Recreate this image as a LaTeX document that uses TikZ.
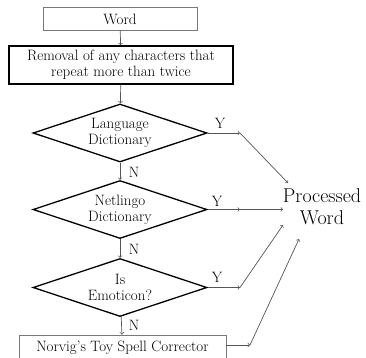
\documentclass[tikz,border=0pt]{standalone}
\usetikzlibrary{shapes.geometric}
\definecolor{arrgray}{RGB}{85,85,85}
\definecolor{boxgray}{RGB}{120,120,120}
\begin{document}
\begin{tikzpicture}[x=1pt,y=-1pt,
  txt/.style={font=\fontsize{15}{16}\selectfont, align=center},
  thinbox/.style={rectangle, draw=boxgray, line width=0.8pt, inner sep=0pt, txt},
  thickbox/.style={rectangle, draw=black, line width=1.5pt, inner sep=0pt, txt},
  dia/.style={diamond, draw=black, line width=1.3pt, aspect=3, inner sep=0pt,
    minimum width=174pt, minimum height=58pt, txt},
  arr/.style={draw=arrgray, line width=0.7pt, ->},
  lbl/.style={font=\fontsize{15}{16}\selectfont, inner sep=0pt},
]
\clip (0,0) rectangle (366,357);
\node[thinbox, minimum width=154pt, minimum height=22.5pt] (word) at (120,19) {Word};
\node[thickbox, minimum width=224pt, minimum height=38pt] (rem) at (121,65)
  {Removal of any characters that\\repeat more than twice};
\node[dia] (d1) at (120,133) {Language\\Dictionary};
\node[dia] (d2) at (120,209.5) {Netlingo\\Dictionary};
\node[dia] (d3) at (120,287.5) {Is\\Emoticon?};
\node[thinbox, minimum width=207pt, minimum height=26pt] (nor) at (122.5,348)
  {Norvig's Toy Spell Corrector};
\node[font=\fontsize{20}{22}\selectfont, align=center, inner sep=0pt] (pw) at (322,207)
  {Processed\\Word};

\coordinate (y1) at (240,133);
\coordinate (y2) at (240,209.5);
\coordinate (y3) at (240,287.5);
\coordinate (y4) at (250,345);
\coordinate (p1) at (288,183);
\coordinate (p2) at (283,209.5);
\coordinate (p3) at (283,225);
\coordinate (p4) at (299,239);

\draw[arr] (word) -- (rem);
\draw[arr] (rem) -- (d1);
\draw[arr] (d1) -- (d2);
\draw[arr] (d2) -- (d3);
\draw[arr] (d3) -- (nor);

\node[lbl] (n1) at (134,172) {N};
\node[lbl] (n2) at (134,249) {N};
\node[lbl] (n3) at (134,325) {N};

\draw[arr] (d1.east) -- (y1);
\draw[arr] (y1) -- (p1);
\draw[arr] (d2.east) -- (y2);
\draw[arr] (y2) -- (p2);
\draw[arr] (d3.east) -- (y3);
\draw[arr] (y3) -- (p3);
\draw[arr] (nor.east |- y4) -- (y4);
\draw[arr] (y4) -- (p4);

\node[lbl] (ya) at (220,123) {Y};
\node[lbl] (yb) at (217,201) {Y};
\node[lbl] (yc) at (217,277) {Y};
\end{tikzpicture}
\end{document}
